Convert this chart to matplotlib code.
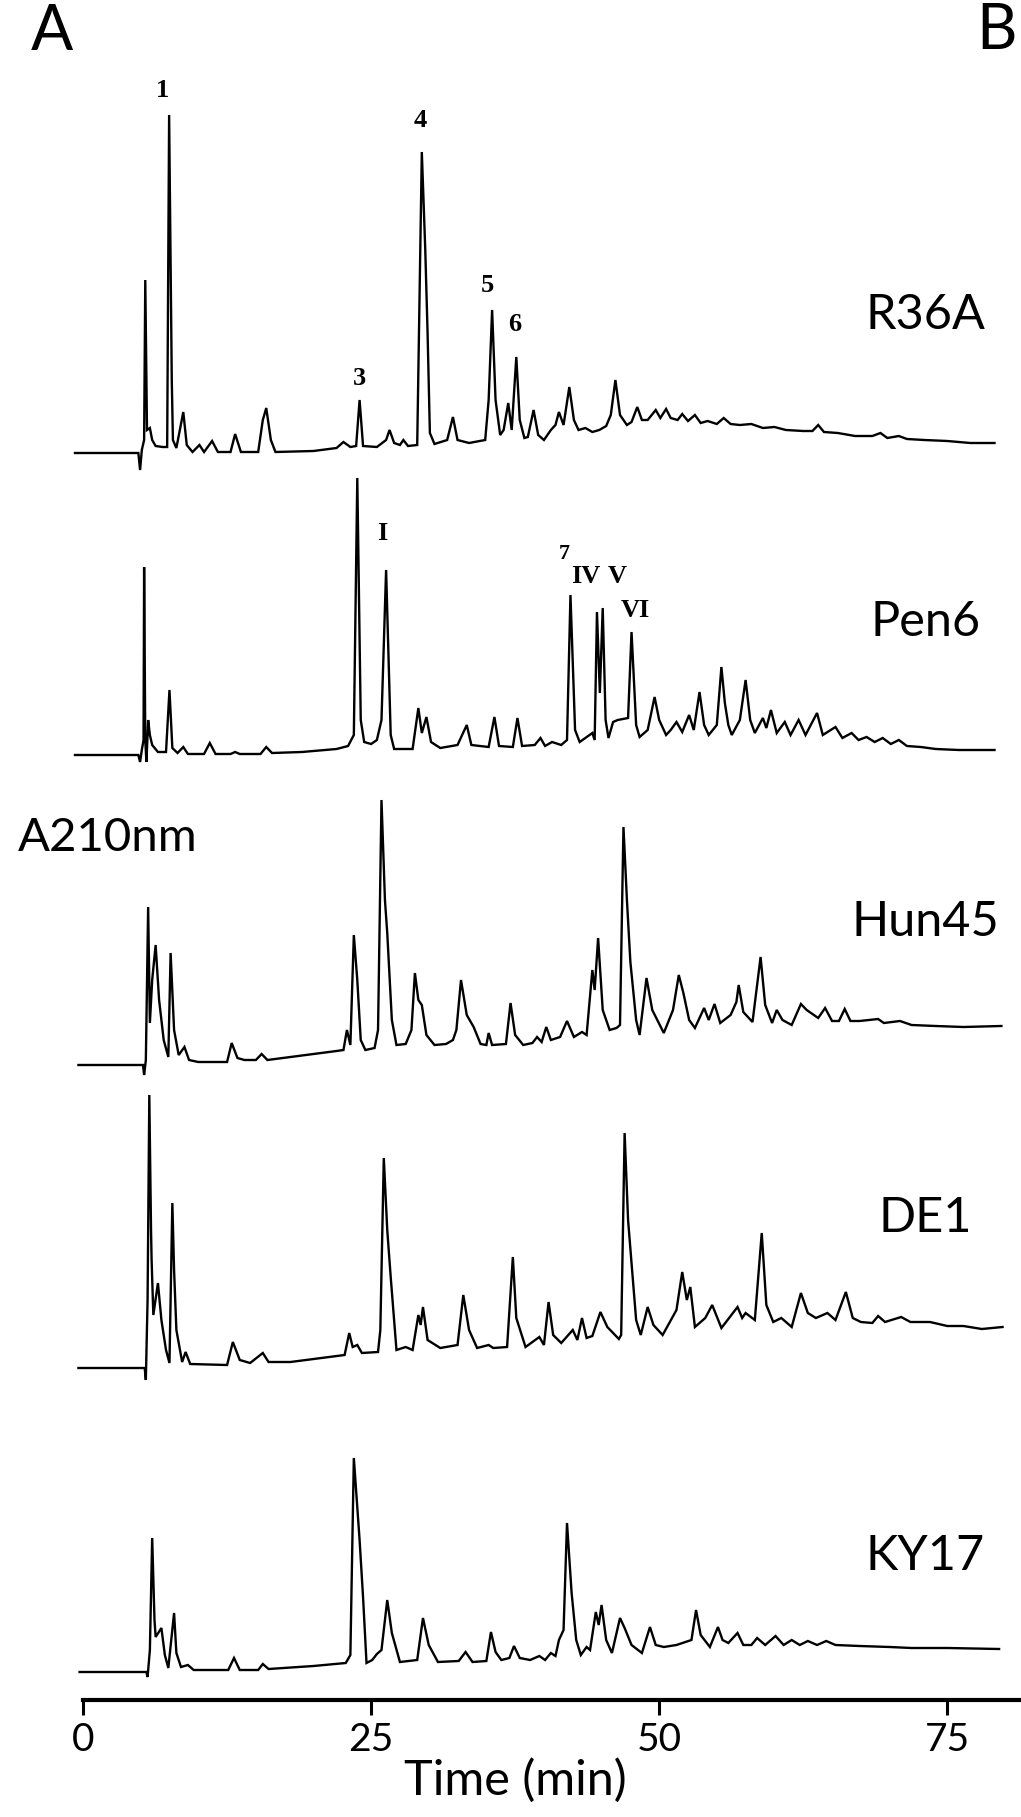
import numpy as np
import matplotlib
matplotlib.use("Agg")
import matplotlib.pyplot as plt

plt.rcParams['font.family'] = ['Lato', 'DejaVu Sans']

# HPLC traces, A210nm, signal above each trace's own baseline (arbitrary units)
r36a = [(-0.7, 0), (4.8, 0), (4.95, -17), (5.1, 3), (5.3, 13), (5.4, 173), (5.55, 23), (5.8, 25), (6.0, 13),
        (6.3, 7), (6.9, 6), (7.3, 6), (7.47, 338), (7.7, 73), (7.8, 13), (8.1, 5), (8.7, 41), (9.0, 8), (9.5, 1),
        (10.1, 8), (10.5, 1), (11.2, 12), (11.7, 1), (12.8, 1), (13.2, 19), (13.7, 1), (15.2, 1), (15.6, 33),
        (15.9, 45), (16.3, 13), (16.7, 1), (20.0, 2), (22.0, 5), (22.6, 11), (23.2, 6), (23.7, 7), (24.0, 53),
        (24.3, 7), (25.5, 6), (26.3, 13), (26.6, 23), (27.0, 10), (27.5, 8), (27.8, 13), (28.2, 7), (29.0, 8),
        (29.4, 301), (29.7, 203), (29.9, 120), (30.1, 20), (30.5, 9), (31.6, 13), (32.1, 36), (32.5, 13),
        (33.5, 10), (34.9, 13), (35.2, 53), (35.5, 143), (35.8, 53), (36.2, 18), (36.5, 23), (36.9, 50),
        (37.2, 23), (37.6, 96), (37.9, 33), (38.3, 15), (38.6, 16), (39.1, 43), (39.5, 18), (40.0, 13),
        (40.6, 23), (41.0, 28), (41.3, 41), (41.7, 28), (42.2, 66), (42.6, 33), (43.0, 23), (43.6, 25),
        (44.2, 21), (44.8, 23), (45.4, 27), (45.8, 38), (46.2, 73), (46.6, 38), (47.2, 28), (47.6, 31),
        (48.1, 46), (48.5, 33), (49.0, 33), (49.7, 43), (50.1, 35), (50.6, 44), (51.0, 35), (51.6, 33),
        (52.0, 39), (52.5, 32), (53.1, 38), (53.6, 30), (54.2, 32), (55.0, 29), (55.6, 35), (56.2, 29),
        (57.0, 28), (58.0, 29), (59.0, 25), (60.0, 26), (61.0, 23), (62.5, 22), (63.3, 22), (63.8, 28),
        (64.3, 21), (65.5, 20), (67.0, 17), (68.5, 17), (69.2, 20), (69.8, 15), (70.8, 17), (71.5, 14),
        (73.0, 13), (75.0, 12), (77.0, 10), (79.1, 10)]

pen6 = [(-0.7, 0), (4.8, 0), (4.95, -7), (5.1, 5), (5.25, 15), (5.3, 188), (5.4, 15), (5.5, -7), (5.6, 20),
        (5.65, 35), (5.8, 20), (6.0, 10), (6.5, 3), (7.2, 3), (7.5, 65), (7.75, 7), (8.2, 2), (8.7, 8), (9.1, 1),
        (10.5, 1), (11.0, 12), (11.5, 1), (12.8, 1), (13.2, 3), (13.6, 1), (15.4, 1), (15.9, 8), (16.4, 2),
        (19.0, 3), (22.0, 6), (23.0, 9), (23.5, 20), (23.8, 277), (24.1, 35), (24.4, 13), (25.0, 11), (25.5, 15),
        (25.9, 35), (26.3, 185), (26.7, 20), (27.0, 6), (28.6, 6), (29.1, 47), (29.4, 22), (29.8, 38), (30.2, 13),
        (31.0, 7), (32.5, 10), (33.3, 30), (33.7, 10), (35.2, 8), (35.7, 38), (36.1, 9), (37.3, 8), (37.7, 37),
        (38.1, 9), (39.2, 10), (39.7, 17), (40.1, 9), (40.7, 13), (41.5, 10), (42.0, 15), (42.3, 160), (42.7, 25),
        (43.1, 13), (44.2, 22), (44.4, 15), (44.6, 143), (44.85, 62), (45.1, 147), (45.35, 35), (45.6, 17),
        (46.0, 33), (46.4, 35), (47.3, 37), (47.6, 123), (48.0, 30), (48.3, 18), (49.0, 25), (49.6, 58),
        (50.0, 35), (50.6, 20), (51.0, 25), (51.5, 33), (52.0, 23), (52.6, 40), (53.0, 25), (53.5, 63),
        (53.9, 30), (54.3, 20), (55.0, 30), (55.4, 88), (55.7, 52), (56.0, 30), (56.3, 20), (57.0, 35),
        (57.5, 75), (57.9, 35), (58.3, 22), (59.0, 37), (59.3, 27), (59.7, 45), (60.2, 22), (60.9, 33),
        (61.4, 20), (62.1, 35), (62.7, 20), (63.7, 42), (64.2, 20), (65.3, 28), (65.9, 17), (66.7, 22),
        (67.3, 15), (68.0, 18), (68.7, 13), (69.4, 17), (70.1, 11), (70.8, 15), (71.5, 9), (72.7, 8),
        (74.0, 6), (76.0, 5), (79.1, 5)]

hun45 = [(-0.4, 0), (5.2, 0), (5.3, -10), (5.45, 5), (5.65, 158), (5.8, 42), (6.0, 85), (6.3, 120), (6.6, 65),
         (7.0, 25), (7.4, 8), (7.6, 112), (7.9, 35), (8.3, 10), (8.8, 18), (9.2, 5), (10.0, 3), (12.5, 3),
         (12.9, 22), (13.4, 7), (14.0, 5), (15.0, 5), (15.5, 11), (16.0, 5), (18.0, 8), (22.0, 14), (22.6, 15),
         (22.9, 35), (23.2, 20), (23.5, 130), (23.8, 85), (24.1, 25), (24.5, 15), (25.3, 17), (25.6, 35),
         (25.9, 265), (26.2, 165), (26.4, 132), (26.8, 45), (27.2, 20), (28.0, 21), (28.5, 35), (28.8, 92),
         (29.1, 65), (29.4, 60), (29.8, 30), (30.5, 20), (31.5, 21), (32.1, 25), (32.4, 35), (32.8, 85),
         (33.3, 50), (33.9, 38), (34.5, 21), (35.0, 20), (35.2, 32), (35.5, 20), (36.7, 21), (37.1, 62),
         (37.5, 30), (38.2, 20), (39.0, 22), (39.4, 28), (39.8, 23), (40.2, 38), (40.6, 25), (41.4, 28),
         (42.0, 44), (42.6, 28), (43.3, 33), (43.7, 30), (44.2, 95), (44.4, 75), (44.7, 127), (45.1, 55),
         (45.7, 35), (46.3, 37), (46.6, 40), (46.9, 238), (47.2, 165), (47.5, 103), (48.0, 45), (48.3, 30),
         (48.9, 87), (49.4, 55), (50.4, 32), (51.2, 55), (51.7, 90), (52.1, 72), (52.6, 45), (53.1, 37),
         (53.9, 57), (54.3, 45), (54.8, 61), (55.3, 42), (56.2, 50), (56.7, 63), (56.9, 80), (57.3, 53),
         (58.1, 43), (58.8, 108), (59.2, 60), (59.8, 42), (60.2, 55), (60.7, 45), (61.5, 40), (62.3, 61),
         (62.8, 55), (63.8, 47), (64.4, 57), (65.0, 44), (65.6, 44), (66.1, 56), (66.6, 44), (67.4, 44),
         (69.0, 46), (69.5, 42), (70.9, 44), (71.9, 40), (74.0, 39), (76.4, 38), (79.7, 39)]

de1 = [(-0.4, 0), (5.35, 0), (5.45, -12), (5.6, 68), (5.75, 273), (5.9, 138), (5.95, 108), (6.1, 53), (6.5, 85),
       (6.8, 48), (7.2, 18), (7.5, 5), (7.75, 165), (7.9, 98), (8.1, 38), (8.6, 6), (8.9, 16), (9.3, 4), (12.5, 3),
       (13.0, 26), (13.6, 8), (14.5, 5), (15.6, 15), (16.1, 6), (18.0, 6), (22.7, 13), (23.1, 35), (23.4, 21),
       (23.8, 23), (24.2, 15), (25.6, 16), (25.8, 38), (26.1, 210), (26.4, 138), (26.7, 91), (27.2, 18),
       (28.0, 21), (28.6, 18), (29.1, 53), (29.3, 43), (29.5, 61), (29.9, 28), (31.0, 20), (32.5, 23), (33.0, 73),
       (33.5, 38), (34.2, 20), (35.2, 23), (35.6, 20), (36.8, 21), (37.3, 111), (37.6, 50), (38.4, 21),
       (39.6, 31), (40.0, 23), (40.4, 66), (40.8, 33), (41.5, 25), (42.5, 38), (42.9, 28), (43.3, 50),
       (43.7, 30), (44.2, 32), (44.9, 56), (45.5, 41), (46.5, 29), (46.7, 33), (47.0, 235), (47.3, 148),
       (47.6, 105), (48.0, 48), (48.4, 33), (49.0, 61), (49.5, 43), (50.3, 33), (51.5, 58), (52.0, 96),
       (52.4, 68), (52.7, 81), (53.1, 41), (54.0, 50), (54.6, 63), (55.4, 40), (56.8, 61), (57.2, 50),
       (57.5, 55), (58.3, 48), (58.9, 135), (59.3, 63), (59.9, 46), (60.6, 50), (61.5, 41), (62.3, 75),
       (62.9, 55), (63.6, 50), (64.6, 55), (65.3, 48), (66.2, 76), (66.8, 50), (67.5, 46), (68.5, 45),
       (69.0, 52), (69.6, 46), (71.0, 51), (71.8, 46), (73.5, 46), (75.0, 42), (76.4, 42), (78.0, 39), (79.8, 41)]

ky17 = [(-0.3, 0), (5.5, 0), (5.6, -5), (5.8, 22), (6.0, 134), (6.2, 52), (6.3, 35), (6.8, 44), (7.1, 17),
        (7.4, 4), (7.9, 59), (8.1, 19), (8.5, 5), (9.1, 7), (9.6, 2), (12.6, 2), (13.1, 14), (13.6, 2), (15.2, 2),
        (15.6, 8), (16.1, 3), (20.0, 6), (22.8, 9), (23.2, 17), (23.5, 214), (24.0, 132), (24.3, 75), (24.6, 9),
        (25.1, 12), (25.5, 18), (25.9, 22), (26.4, 72), (26.8, 39), (27.5, 10), (29.0, 12), (29.5, 54), (30.0, 27),
        (30.8, 10), (32.6, 11), (33.2, 20), (33.8, 10), (35.0, 11), (35.4, 40), (35.8, 20), (36.3, 12), (37.0, 14),
        (37.4, 26), (37.9, 14), (38.8, 12), (39.6, 16), (40.1, 12), (40.6, 19), (41.0, 16), (41.3, 32),
        (41.7, 42), (42.0, 149), (42.4, 79), (42.8, 32), (43.2, 17), (43.7, 25), (44.0, 22), (44.5, 60),
        (44.75, 47), (45.0, 67), (45.4, 32), (45.9, 19), (46.6, 54), (47.0, 44), (47.6, 27), (48.5, 19),
        (49.2, 45), (49.7, 27), (50.4, 25), (51.5, 27), (52.8, 32), (53.2, 62), (53.6, 37), (54.4, 25),
        (55.1, 45), (55.5, 32), (56.0, 29), (56.8, 39), (57.3, 27), (58.0, 27), (58.5, 34), (59.2, 27),
        (60.1, 36), (60.8, 27), (61.5, 32), (62.2, 27), (62.9, 31), (63.7, 27), (64.5, 31), (65.3, 27),
        (67.4, 26), (70.0, 25), (71.9, 24), (75.0, 24), (79.5, 23)]

samples = ["R36A", "Pen6", "Hun45", "DE1", "KY17"]
traces = [r36a, pen6, hun45, de1, ky17]
offsets = [1247, 945, 635, 332, 28]          # vertical stacking of the traces
name_heights = [1385, 1078, 778, 482, 144]   # where the sample names sit

# numbered / roman peak labels: (text, time, height)
peak_labels = [("1", 6.9, 1610), ("3", 24.0, 1322), ("4", 29.3, 1580), ("5", 35.1, 1415), ("6", 37.5, 1376),
               ("I", 26.0, 1167), ("IV", 43.6, 1124), ("V", 46.4, 1124), ("VI", 47.9, 1090)]

fig = plt.figure(figsize=(10.21, 18.17), dpi=100)
ax = fig.add_axes([60 / 1021, 117 / 1817, 961 / 1021, 1700 / 1817])

for name, tr, off, nh in zip(samples, traces, offsets, name_heights):
    t, s = np.array(tr).T
    ax.plot(t, s + off, color="black", lw=1.7, solid_joinstyle="miter")
    ax.text(73.1, nh, name, fontsize=35, ha="center", va="center")

for lab, t, h in peak_labels:
    ax.text(t, h, lab, fontsize=19, fontweight="bold", family="Liberation Serif", ha="center", va="center")
ax.text(41.75, 1146, "7", fontsize=16, fontweight="bold", family="Liberation Serif", ha="center", va="center")

ax.text(2.17, 862, "A210nm", fontsize=34, ha="center", va="center")

ax.set_xlim(-2.0, 81.4)
ax.set_ylim(0, 1700)
for side in ["left", "top", "right"]:
    ax.spines[side].set_visible(False)
ax.spines["bottom"].set_linewidth(3)
ax.spines["bottom"].set_bounds(0, 81.4)
ax.set_yticks([])
ax.set_xticks([0, 25, 50, 75])
ax.tick_params(axis="x", length=11, width=2.2, labelsize=28, pad=5)
ax.set_xlabel("Time (min)", fontsize=35)
ax.xaxis.set_label_coords(0.474, -0.034)

fig.text(52 / 1021, 1 - 32 / 1817, "A", fontsize=45, ha="center", va="center")
fig.text(1017 / 1021, 1 - 31 / 1817, "B", fontsize=45, ha="right", va="center")

fig.savefig("out.png", dpi=100)
